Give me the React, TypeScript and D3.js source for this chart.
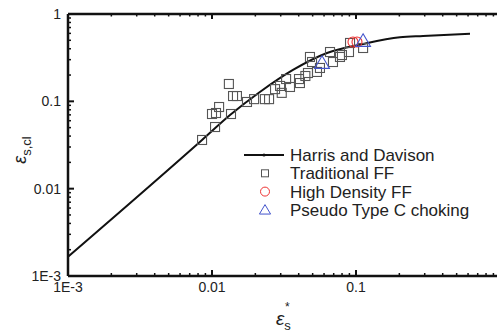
import React from "react";
import * as d3 from "d3";

const harrisX = [0.001, 0.00853, 0.01334, 0.0215, 0.0365, 0.0629, 0.112, 0.202, 0.292, 0.619];
const harrisY = [0.00166, 0.0361, 0.0697, 0.128, 0.229, 0.358, 0.453, 0.541, 0.56, 0.595];

const tradX = [0.00853, 0.0105, 0.01, 0.01066, 0.0112, 0.01355, 0.0131, 0.014, 0.0149, 0.0175, 0.0196, 0.0233, 0.0249, 0.0274, 0.0297, 0.0327, 0.0348, 0.0402, 0.0408, 0.0464, 0.0479, 0.0495, 0.0536, 0.0562, 0.066, 0.0692, 0.0774, 0.0799, 0.0894, 0.0909, 0.112, 0.0305, 0.0445];
const tradY = [0.0361, 0.0508, 0.0716, 0.0735, 0.0861, 0.0716, 0.158, 0.115, 0.115, 0.0983, 0.106, 0.106, 0.106, 0.138, 0.15, 0.18, 0.146, 0.18, 0.162, 0.211, 0.322, 0.282, 0.217, 0.241, 0.367, 0.282, 0.322, 0.339, 0.367, 0.466, 0.408, 0.125, 0.195];

const hdX = [0.0953, 0.1016];
const hdY = [0.478, 0.478];

const pseudoX = [0.0581, 0.112];
const pseudoY = [0.275, 0.491];

const xMajor = [0.001, 0.01, 0.1];
const xMajorLabels = ["1E-3", "0.01", "0.1"];
const yMajor = [0.001, 0.01, 0.1, 1];
const yMajorLabels = ["1E-3", "0.01", "0.1", "1"];

const legendLabels = ["Harris and Davison", "Traditional FF", "High Density FF", "Pseudo Type C choking"];

const W = 497, H = 335;
const L = 68, R = 500, T = 14, B = 276;

function minors(lo: number, hi: number) {
  const out: number[] = [];
  for (let e = lo; e < hi; e++) {
    for (let k = 2; k <= 9; k++) out.push(k * Math.pow(10, e));
  }
  return out;
}

export default function App() {
  const x = d3.scaleLog().domain([0.001, 1]).range([L, R]);
  const y = d3.scaleLog().domain([0.001, 1]).range([B, T]);

  const line = d3
    .line<[number, number]>()
    .x((d) => x(d[0]))
    .y((d) => y(d[1]))
    .curve(d3.curveMonotoneX);
  const hPts = harrisX.map((v, i) => [v, harrisY[i]] as [number, number]);

  const xMin = minors(-3, 0);
  const yMin = minors(-3, 0);
  const font = "Liberation Sans, Arial, Helvetica, sans-serif";
  const sq = 9;
  const tri = (cx: number, cy: number, s: number) =>
    `M${cx},${cy - s * 0.6}L${cx + s * 0.62},${cy + s * 0.45}L${cx - s * 0.62},${cy + s * 0.45}Z`;

  const legX = 265;
  const legY = [155, 173.3, 191.6, 210];

  return (
    <svg width={W} height={H} style={{ position: "absolute", left: 0, top: 0, background: "#fff" }} fontFamily={font}>
      <rect x={0} y={0} width={W} height={H} fill="#fff" />
      {/* Harris line */}
      <path d={line(hPts) || ""} fill="none" stroke="#111" strokeWidth={2} />
      {/* traditional squares */}
      {tradX.map((v, i) => (
        <rect key={"s" + i} x={x(v) - sq / 2} y={y(tradY[i]) - sq / 2} width={sq} height={sq} fill="none" stroke="#555" strokeWidth={1.1} />
      ))}
      {hdX.map((v, i) => (
        <circle key={"c" + i} cx={x(v)} cy={y(hdY[i])} r={5} fill="none" stroke="#ee3333" strokeWidth={1.1} />
      ))}
      {pseudoX.map((v, i) => (
        <path key={"t" + i} d={tri(x(v), y(pseudoY[i]), 12)} fill="none" stroke="#4455cc" strokeWidth={1.1} />
      ))}

      {/* axes lines */}
      <line x1={L} x2={R} y1={B} y2={B} stroke="#111" strokeWidth={2.5} />
      <line x1={L} x2={R} y1={T} y2={T} stroke="#111" strokeWidth={2.5} />
      <line x1={L} x2={L} y1={T} y2={B} stroke="#111" strokeWidth={2.5} />

      {/* x ticks */}
      {xMajor.map((v) => (
        <g key={"xm" + v}>
          <line x1={x(v)} x2={x(v)} y1={B} y2={B - 6} stroke="#111" strokeWidth={2} />
          <line x1={x(v)} x2={x(v)} y1={T} y2={T + 5} stroke="#111" strokeWidth={2} />
        </g>
      ))}
      {xMin.map((v) => (
        <g key={"xn" + v}>
          <line x1={x(v)} x2={x(v)} y1={B} y2={B - 3} stroke="#111" strokeWidth={1.5} />
          <line x1={x(v)} x2={x(v)} y1={T} y2={T + 2.5} stroke="#111" strokeWidth={1.5} />
        </g>
      ))}
      {/* y ticks */}
      {yMajor.map((v) => (
        <line key={"ym" + v} x1={L} x2={L + 6} y1={y(v)} y2={y(v)} stroke="#111" strokeWidth={2} />
      ))}
      {yMin.map((v) => (
        <line key={"yn" + v} x1={L} x2={L + 3} y1={y(v)} y2={y(v)} stroke="#111" strokeWidth={1.5} />
      ))}

      {/* tick labels */}
      {xMajor.map((v, i) => (
        <text key={"xl" + v} x={x(v)} y={291.5} fontSize={14} textAnchor="middle" fill="#222">
          {xMajorLabels[i]}
        </text>
      ))}
      {yMajor.map((v, i) => (
        <text key={"yl" + v} x={61} y={y(v) + 5} fontSize={14} textAnchor="end" fill="#222">
          {yMajorLabels[i]}
        </text>
      ))}

      {/* axis titles */}
      <g transform="translate(26,150) rotate(-90)">
        <text x={0} y={0} textAnchor="middle" fill="#222" fontSize={18}>
          <tspan fontStyle="italic">ε</tspan>
          <tspan fontSize={13} dy={5}>s,cl</tspan>
        </text>
      </g>
      <text x={276} y={325} fill="#222" fontSize={19}>
        <tspan fontStyle="italic">ε</tspan>
        <tspan fontSize={13} dy={5} dx={0}>s</tspan>
      </text>
      <text x={285} y={311} fill="#222" fontSize={12}>*</text>

      {/* legend */}
      <line x1={244} x2={284} y1={legY[0]} y2={legY[0]} stroke="#111" strokeWidth={2} />
      <circle cx={264} cy={legY[0]} r={1.6} fill="#111" />
      <rect x={legX - 3.5} y={legY[1] - 3.5} width={7} height={7} fill="none" stroke="#555" strokeWidth={1} />
      <circle cx={legX} cy={legY[2]} r={4.5} fill="none" stroke="#ee3333" strokeWidth={1} />
      <path d={tri(legX, legY[3], 9)} fill="none" stroke="#4455cc" strokeWidth={1} />
      {legendLabels.map((s, i) => (
        <text key={s} x={290} y={legY[i] + 6} fontSize={17} fill="#222">
          {s}
        </text>
      ))}
    </svg>
  );
}
